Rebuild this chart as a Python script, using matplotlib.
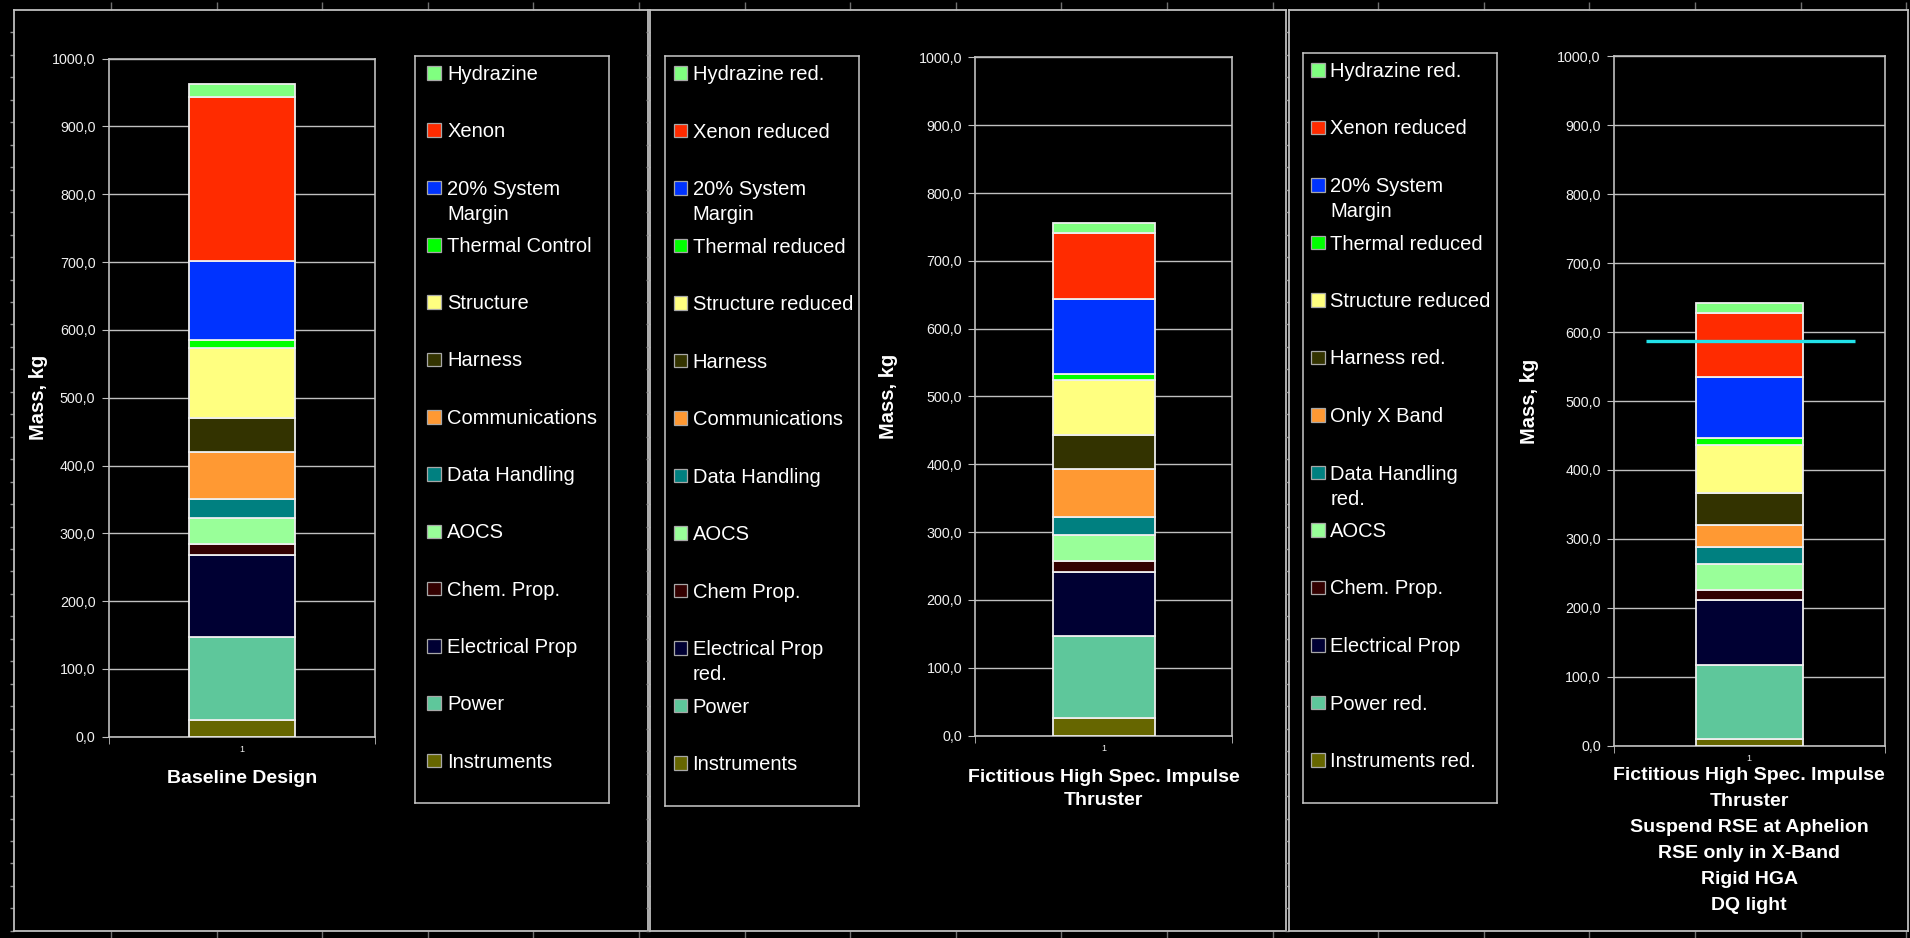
import matplotlib
matplotlib.use("Agg")
import matplotlib.pyplot as plt
from matplotlib.patches import Rectangle
from matplotlib.ticker import FuncFormatter
import numpy as np

plt.rcParams["font.family"] = ["Liberation Sans", "DejaVu Sans"]

W, H = 1910, 938

# ---- data: subsystem masses in kg, stacked bottom to top ----
baseline_mass = [25.5, 122.0, 120.5, 16.0, 39.0, 27.0, 70.5, 50.0, 103.0, 11.0, 117.0, 242.0, 18.5]
high_isp_mass = [25.5, 122.0, 93.5, 16.0, 39.0, 27.0, 70.5, 50.0, 80.5, 9.5, 110.5, 97.5, 15.0]
reduced_mass = [10.0, 106.5, 94.0, 14.5, 38.5, 24.5, 32.5, 46.5, 69.5, 9.5, 89.5, 91.5, 15.0]
mass_limit = 587.5

segment_colors = ["#666600", "#5EC79B", "#000033", "#330000", "#99FF99", "#008080",
                  "#FF9933", "#333300", "#FFFF80", "#00FF00", "#0033FF", "#FF2B00", "#80FF80"]

baseline_labels = ["Instruments", "Power", "Electrical Prop", "Chem. Prop.", "AOCS",
                   "Data Handling", "Communications", "Harness", "Structure",
                   "Thermal Control", "20% System\nMargin", "Xenon", "Hydrazine"]
high_isp_labels = ["Instruments", "Power", "Electrical Prop\nred.", "Chem Prop.", "AOCS",
                   "Data Handling", "Communications", "Harness", "Structure reduced",
                   "Thermal reduced", "20% System\nMargin", "Xenon reduced", "Hydrazine red."]
reduced_labels = ["Instruments red.", "Power red.", "Electrical Prop", "Chem. Prop.", "AOCS",
                  "Data Handling\nred.", "Only X Band", "Harness red.", "Structure reduced",
                  "Thermal reduced", "20% System\nMargin", "Xenon reduced", "Hydrazine red."]

category_labels = [
    "Baseline Design",
    "Fictitious High Spec. Impulse\nThruster",
    "Fictitious High Spec. Impulse\nThruster\nSuspend RSE at Aphelion\nRSE only in X-Band\nRigid HGA\nDQ light",
]
y_ticks = [0, 100, 200, 300, 400, 500, 600, 700, 800, 900, 1000]

# ---- layout (pixels) ----
panels = [
    dict(frame=(13.5, 10.5, 647.5, 931), plot=(108.6, 58.6, 375.4, 736.8),
         legend=(415, 55.6, 609.4, 802.6), leg_first=18.9, leg_step=57.3, sq_off=12.3, txt_off=32.3,
         ylab_x=-0.2646, xlab_top=770.0, xlab_ls=1.2,
         mass=baseline_mass, labels=baseline_labels, limit=None),
    dict(frame=(650.0, 10.5, 1286.0, 931), plot=(975.4, 57.4, 1232.2, 735.6),
         legend=(665.3, 55.6, 859.3, 805.6), leg_first=18.9, leg_step=57.5, sq_off=8.4, txt_off=27.3,
         ylab_x=-0.340, xlab_top=768.5, xlab_ls=1.48,
         mass=high_isp_mass, labels=high_isp_labels, limit=None),
    dict(frame=(1289.0, 10.5, 1908.0, 931), plot=(1614.0, 56.5, 1884.6, 745.5),
         legend=(1303.0, 53.2, 1497.4, 802.6), leg_first=18.3, leg_step=57.5, sq_off=8.3, txt_off=27.2,
         ylab_x=-0.314, xlab_top=766.5, xlab_ls=1.7,
         mass=reduced_mass, labels=reduced_labels, limit=(-0.382, 0.389)),
]

BAR_WIDTH = 0.397
GRID = "#C0C0C0"
TEXT = "#F0F0F0"


def frac(l, t, r, b):
    return [l / W, 1 - b / H, (r - l) / W, (b - t) / H]


fig = plt.figure(figsize=(W / 100, H / 100), dpi=100, facecolor="black")

ruler_x = np.arange(111.0, W, 105.6)
ruler_y = np.arange(10.0, 932.0, 22.46)

for i, p in enumerate(panels):
    # panel frame with ruler ticks
    l, t, r, b = p["frame"]
    fax = fig.add_axes(frac(l, t, r, b), facecolor="black")
    fax.set_xlim(l, r)
    fax.set_ylim(b, t)
    for s in fax.spines.values():
        s.set_color("#BEBEBE")
        s.set_linewidth(1.3)
    fax.set_xticks([x for x in ruler_x if l < x < r])
    fax.set_yticks([y for y in ruler_y if t <= y <= b])
    fax.tick_params(axis="x", top=True, bottom=True, direction="out", length=6,
                    color="#707070", width=1, labelbottom=False, labeltop=False)
    fax.tick_params(axis="y", left=True, right=False, direction="out", length=3,
                    color="#909090", width=1, labelleft=False)

    # stacked bar
    ax = fig.add_axes(frac(*p["plot"]), facecolor="black")
    mass = np.array(p["mass"])
    bottoms = np.concatenate([[0], np.cumsum(mass)[:-1]])
    ax.bar(np.zeros(len(mass)), mass, bottom=bottoms, width=BAR_WIDTH,
           color=segment_colors, edgecolor="#EEEEEE", linewidth=1.3, zorder=3)
    if p["limit"] is not None:
        x0, x1 = p["limit"]
        ax.hlines(mass_limit, x0, x1, color="#22E2EA", linewidth=2.4, zorder=4)

    ax.set_xlim(-0.5, 0.5)
    ax.set_ylim(0, 1000)
    ax.set_yticks(y_ticks)
    ax.yaxis.set_major_formatter(FuncFormatter(lambda v, _: f"{v:.1f}".replace(".", ",")))
    ax.yaxis.grid(True, color=GRID, linewidth=1.0)
    ax.set_axisbelow(True)
    for s in ax.spines.values():
        s.set_color(GRID)
        s.set_linewidth(1.2)
    ax.tick_params(axis="y", direction="out", length=5, color=GRID, labelcolor=TEXT,
                   labelsize=10.3, pad=4.5)
    ax.set_xticks([0])
    ax.set_xticklabels(["1"])
    ax.set_xticks([-0.5, 0.5], minor=True)
    ax.tick_params(axis="x", which="major", length=0, labelsize=6.5, labelcolor=TEXT, pad=6)
    ax.tick_params(axis="x", which="minor", direction="out", length=5, color=GRID)

    ax.set_ylabel("Mass, kg", fontsize=14.5, fontweight="bold", color="white", va="center")
    ax.yaxis.set_label_coords(p["ylab_x"], 0.5)
    pl, pt, pr, pb = p["plot"]
    ax.set_xlabel(category_labels[i], fontsize=14, fontweight="bold", color="white",
                  va="top", linespacing=p["xlab_ls"])
    ax.xaxis.set_label_coords(0.5, (pb - p["xlab_top"]) / (pb - pt))

    # legend box, entries listed top to bottom
    ll, lt, lr, lb = p["legend"]
    lax = fig.add_axes(frac(ll, lt, lr, lb), facecolor="black")
    lax.set_xlim(0, lr - ll)
    lax.set_ylim(lb - lt, 0)
    lax.set_xticks([])
    lax.set_yticks([])
    for s in lax.spines.values():
        s.set_color("#C8C8C8")
        s.set_linewidth(1.1)
    order = list(range(len(mass)))[::-1]
    for k, idx in enumerate(order):
        yc = p["leg_first"] + k * p["leg_step"]
        lax.add_patch(Rectangle((p["sq_off"], yc - 8.3), 13.6, 13.6,
                                facecolor=segment_colors[idx], edgecolor="#A8A8A8", linewidth=0.9))
        for j, line in enumerate(p["labels"][idx].split("\n")):
            lax.text(p["txt_off"], yc + j * 25.1, line, fontsize=14.5, color="white",
                     va="center", ha="left")

fig.savefig("out.png", dpi=100, facecolor="black")
